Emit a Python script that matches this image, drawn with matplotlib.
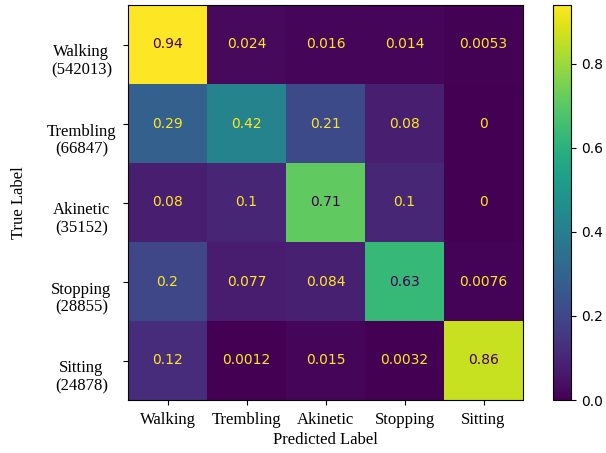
import numpy as np
import matplotlib
matplotlib.use('Agg')
import matplotlib.pyplot as plt
from matplotlib.transforms import ScaledTranslation

classes = ['Walking', 'Trembling', 'Akinetic', 'Stopping', 'Sitting']
counts = [542013, 66847, 35152, 28855, 24878]
cm = np.array([
    [0.94, 0.024, 0.016, 0.014, 0.0053],
    [0.29, 0.42, 0.21, 0.08, 0],
    [0.08, 0.1, 0.71, 0.1, 0],
    [0.2, 0.077, 0.084, 0.63, 0.0076],
    [0.12, 0.0012, 0.015, 0.0032, 0.86],
])

serif = {'family': 'Liberation Serif', 'size': 12}

fig = plt.figure(figsize=(6.06, 4.53), dpi=100)
ax = fig.add_axes([128/606, 53/453, 395/606, 395/453])
cax = fig.add_axes([553/606, 53/453, 18/606, 395/453])

cmap = plt.get_cmap('viridis')
im = ax.imshow(cm, cmap=cmap, vmin=cm.min(), vmax=cm.max(), aspect='auto')
cb = fig.colorbar(im, cax=cax)
cb.ax.tick_params(labelsize=10)

# text color like sklearn's ConfusionMatrixDisplay
thresh = (cm.max() + cm.min()) / 2
for i in range(cm.shape[0]):
    for j in range(cm.shape[1]):
        color = cmap(0) if cm[i, j] > thresh else cmap(1.0)
        ax.text(j, i, format(cm[i, j], '.2g'), ha='center', va='center',
                color=color, fontsize=10)

ax.set_xticks(range(len(classes)))
ax.set_xticklabels(classes, fontdict=serif)
ax.set_yticks(range(len(classes)))
ylabels = ax.set_yticklabels(['%s\n(%d)' % (c, n) for c, n in zip(classes, counts)],
                             fontdict=serif, ha='center', va='top',
                             linespacing=1.15)
# first line sits on the tick, second line hangs below
shift = ScaledTranslation(0, 6/100, fig.dpi_scale_trans)
for lab in ylabels:
    lab.set_transform(lab.get_transform() + shift)
ax.tick_params(axis='y', pad=30)
ax.tick_params(axis='x', pad=5)
ax.set_xlabel('Predicted Label', fontdict=serif, labelpad=3)
ax.set_ylabel('True Label', fontdict=serif, labelpad=14)

fig.savefig('out.png', dpi=100)
